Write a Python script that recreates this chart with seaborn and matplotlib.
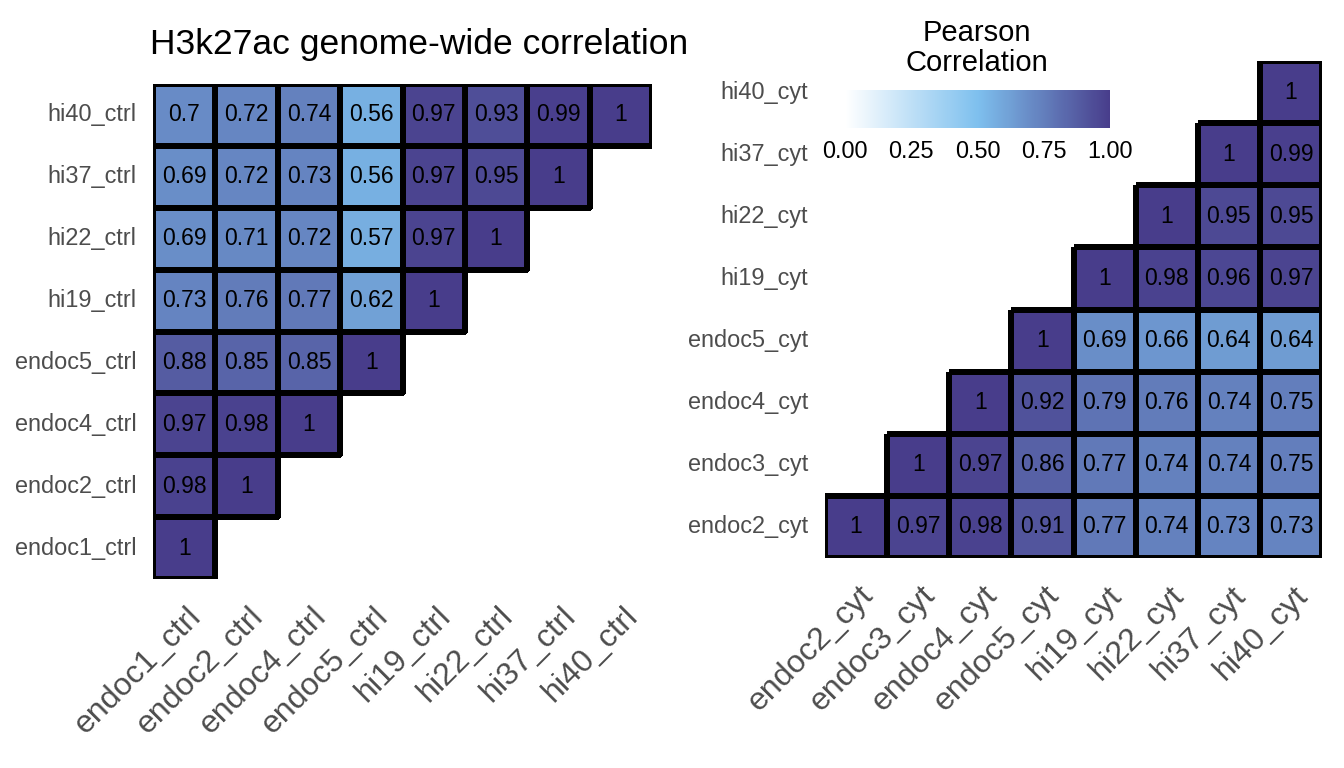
import numpy as np
import pandas as pd
import matplotlib
matplotlib.use("Agg")
import matplotlib.pyplot as plt
from matplotlib.colors import LinearSegmentedColormap
from matplotlib.transforms import ScaledTranslation
import seaborn as sns

# ---------------- data ----------------
ctrl_rows = ["hi40_ctrl", "hi37_ctrl", "hi22_ctrl", "hi19_ctrl",
             "endoc5_ctrl", "endoc4_ctrl", "endoc2_ctrl", "endoc1_ctrl"]
ctrl_cols = ["endoc1_ctrl", "endoc2_ctrl", "endoc4_ctrl", "endoc5_ctrl",
             "hi19_ctrl", "hi22_ctrl", "hi37_ctrl", "hi40_ctrl"]
ctrl_vals = [
    [0.70, 0.72, 0.74, 0.56, 0.97, 0.93, 0.99, 1],
    [0.69, 0.72, 0.73, 0.56, 0.97, 0.95, 1],
    [0.69, 0.71, 0.72, 0.57, 0.97, 1],
    [0.73, 0.76, 0.77, 0.62, 1],
    [0.88, 0.85, 0.85, 1],
    [0.97, 0.98, 1],
    [0.98, 1],
    [1],
]

cyt_rows = ["hi40_cyt", "hi37_cyt", "hi22_cyt", "hi19_cyt",
            "endoc5_cyt", "endoc4_cyt", "endoc3_cyt", "endoc2_cyt"]
cyt_cols = ["endoc2_cyt", "endoc3_cyt", "endoc4_cyt", "endoc5_cyt",
            "hi19_cyt", "hi22_cyt", "hi37_cyt", "hi40_cyt"]
cyt_vals = [
    [1],
    [1, 0.99],
    [1, 0.95, 0.95],
    [1, 0.98, 0.96, 0.97],
    [1, 0.69, 0.66, 0.64, 0.64],
    [1, 0.92, 0.79, 0.76, 0.74, 0.75],
    [1, 0.97, 0.86, 0.77, 0.74, 0.74, 0.75],
    [1, 0.97, 0.98, 0.91, 0.77, 0.74, 0.73, 0.73],
]

title_text = "H3k27ac genome-wide correlation"
legend_title = "Pearson\nCorrelation"
legend_ticks = [0.0, 0.25, 0.5, 0.75, 1.0]


def to_frame(vals, rows, cols, align="left"):
    n = len(cols)
    mat = []
    for r in vals:
        pad = [np.nan] * (n - len(r))
        mat.append(list(r) + pad if align == "left" else pad + list(r))
    return pd.DataFrame(mat, index=rows, columns=cols, dtype=float)


df_ctrl = to_frame(ctrl_vals, ctrl_rows, ctrl_cols, "left")
df_cyt = to_frame(cyt_vals, cyt_rows, cyt_cols, "right")

# ---------------- style ----------------
sns.set_theme(style="white")
plt.rcParams["font.family"] = ["Liberation Sans", "DejaVu Sans"]

cmap = LinearSegmentedColormap.from_list(
    "pearson", [(0.0, "#FFFFFF"), (0.5, "#7EC0EE"), (1.0, "#483D8B")])

W, H = 1344, 768
fig = plt.figure(figsize=(W / 100, H / 100), dpi=100)


def fx(px):
    return px / W


def fy(py):
    return 1 - py / H


ax1 = fig.add_axes([fx(153), fy(579), fx(652) - fx(153), fy(84) - fy(579)])
ax2 = fig.add_axes([fx(825), fy(558), fx(1322) - fx(825), fy(61) - fy(558)])

tick_col = "#4D4D4D"


def draw(ax, df):
    mask = df.isna()
    annot = df.map(lambda v: "" if np.isnan(v) else f"{v:g}")
    sns.heatmap(df, ax=ax, cmap=cmap, vmin=0, vmax=1, mask=mask,
                annot=annot.values, fmt="", cbar=False,
                linewidths=2.9, linecolor="black",
                annot_kws={"size": 16.5, "color": "black"})
    mesh = ax.collections[0]
    flat = mask.values.ravel()
    try:
        if len(mesh.get_array().ravel()) == len(flat):
            ec = np.array([(0, 0, 0, 0) if m else (0, 0, 0, 1) for m in flat])
            mesh.set_edgecolors(ec)
    except Exception:
        pass
    ax.set_xlabel("")
    ax.set_ylabel("")
    ax.tick_params(axis="both", length=0)
    ax.tick_params(axis="y", pad=12, labelsize=16.9, labelcolor=tick_col)
    ax.tick_params(axis="x", pad=16, labelsize=23, labelcolor=tick_col)
    for lab in ax.get_yticklabels():
        lab.set_rotation(0)
        lab.set_va("center")
    for lab in ax.get_xticklabels():
        lab.set_rotation(45)
        lab.set_ha("right")
        lab.set_va("top")
        lab.set_rotation_mode("anchor")
        lab.set_transform(lab.get_transform() +
                          ScaledTranslation(2 / 100, 0, fig.dpi_scale_trans))
    for s in ax.spines.values():
        s.set_visible(False)
    return mesh


m1 = draw(ax1, df_ctrl)
draw(ax2, df_cyt)

fig.text(fx(150), fy(54), title_text, ha="left", va="baseline",
         fontsize=25.5, color="black")

# colorbar legend
cax = fig.add_axes([fx(845), fy(128), fx(1110) - fx(845), fy(90) - fy(128)])
cb = fig.colorbar(m1, cax=cax, orientation="horizontal")
cb.outline.set_visible(False)
cb.set_ticks(legend_ticks)
cb.set_ticklabels([f"{t:.2f}" for t in legend_ticks])
cax.tick_params(axis="x", direction="in", color="white", length=6, width=1.2,
                top=True, bottom=True, labelsize=16.9, labelcolor="black", pad=9)
fig.text(fx(977), fy(48), legend_title, ha="center", va="center",
         fontsize=21, linespacing=1.1, color="black")

fig.savefig("out.png", dpi=100)
